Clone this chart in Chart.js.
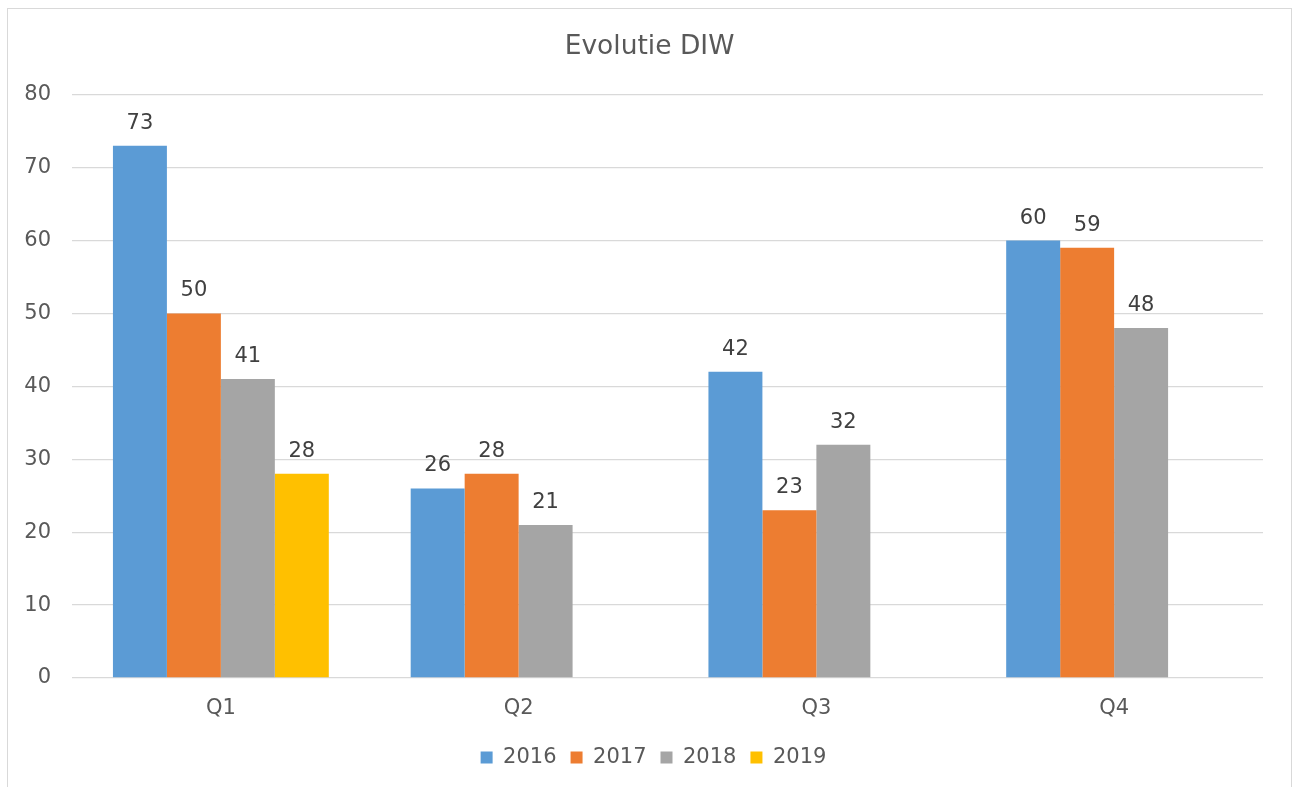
<!DOCTYPE html>
<html>
<head>
<meta charset="utf-8">
<script src="https://cdn.jsdelivr.net/npm/chart.js@4/dist/chart.umd.min.js"></script>
<style>
html,body{margin:0;padding:0;background:#fff;}
#wrap{position:absolute;left:0;top:0;width:1298px;height:787px;}
</style>
</head>
<body>
<div id="wrap"><canvas id="c" width="1298" height="787"></canvas></div>
<script>
const categories = ["Q1", "Q2", "Q3", "Q4"];
const series2016 = [73, 26, 42, 60];
const series2017 = [50, 28, 23, 59];
const series2018 = [41, 21, 32, 48];
const series2019 = [28, null, null, null];
const seriesNames = ["2016", "2017", "2018", "2019"];
const yTicks = [0, 10, 20, 30, 40, 50, 60, 70, 80];

const colors = ["#5B9BD5", "#ED7D31", "#A5A5A5", "#FFC000"];
const FONT = "'DejaVu Sans', Verdana, sans-serif";

const frame = {
  id: 'frame',
  beforeDraw(chart) {
    const ctx = chart.ctx;
    ctx.save();
    ctx.fillStyle = '#fff';
    ctx.fillRect(0, 0, chart.width, chart.height);
    ctx.strokeStyle = '#d9d9d9';
    ctx.lineWidth = 1;
    ctx.strokeRect(7.5, 8.5, 1284, 800);
    ctx.restore();
  }
};

const boxShift = {
  id: 'boxShift',
  afterLayout(chart) {
    const lg = chart.legend;
    if (lg) { lg.left += 22; lg.right += 22; }
    const tt = chart.titleBlock;
    if (tt) { tt.left += 18; tt.right += 18; }
  }
};

const valueLabels = {
  id: 'valueLabels',
  afterDatasetsDraw(chart) {
    const ctx = chart.ctx;
    ctx.save();
    ctx.font = '21px ' + FONT;
    ctx.fillStyle = '#404040';
    ctx.textAlign = 'center';
    ctx.textBaseline = 'alphabetic';
    chart.data.datasets.forEach((ds, i) => {
      const meta = chart.getDatasetMeta(i);
      meta.data.forEach((bar, j) => {
        const v = ds.data[j];
        if (v === null || v === undefined) return;
        ctx.fillText(String(v), bar.x, bar.y - 17);
      });
    });
    ctx.restore();
  }
};

new Chart(document.getElementById('c'), {
  type: 'bar',
  data: {
    labels: categories,
    datasets: [series2016, series2017, series2018, series2019].map((d, i) => ({
      label: seriesNames[i],
      data: d,
      backgroundColor: colors[i],
      borderWidth: 0,
      categoryPercentage: 0.725,
      barPercentage: 1.0
    }))
  },
  options: {
    responsive: false,
    animation: false,
    devicePixelRatio: 1,
    layout: { padding: { left: 0, right: 35, top: 0, bottom: 9 } },
    plugins: {
      tooltip: { enabled: false },
      title: {
        display: true,
        text: 'Evolutie DIW',
        color: '#595959',
        font: { family: FONT, size: 26.5, weight: 'normal' },
        padding: { top: 31, bottom: 31.9 }
      },
      legend: {
        display: true,
        position: 'bottom',
        labels: {
          color: '#595959',
          font: { family: FONT, size: 21 },
          boxWidth: 12,
          boxHeight: 12,
          padding: 14
        }
      }
    },
    scales: {
      x: {
        grid: { display: false, drawTicks: false },
        border: { display: false },
        ticks: { color: '#595959', font: { family: FONT, size: 21 }, padding: 18 },
        afterFit(scale) { scale.height = 55; }
      },
      y: {
        min: 0,
        max: 80,
        afterBuildTicks(scale) { scale.ticks = yTicks.map(v => ({ value: v })); },
        grid: { color: '#d9d9d9', lineWidth: 1.3, drawTicks: false },
        border: { display: false },
        ticks: { color: '#595959', font: { family: FONT, size: 21 }, padding: 21 },
        afterFit(scale) { scale.width = 72; }
      }
    }
  },
  plugins: [frame, boxShift, valueLabels]
});
</script>
</body>
</html>
